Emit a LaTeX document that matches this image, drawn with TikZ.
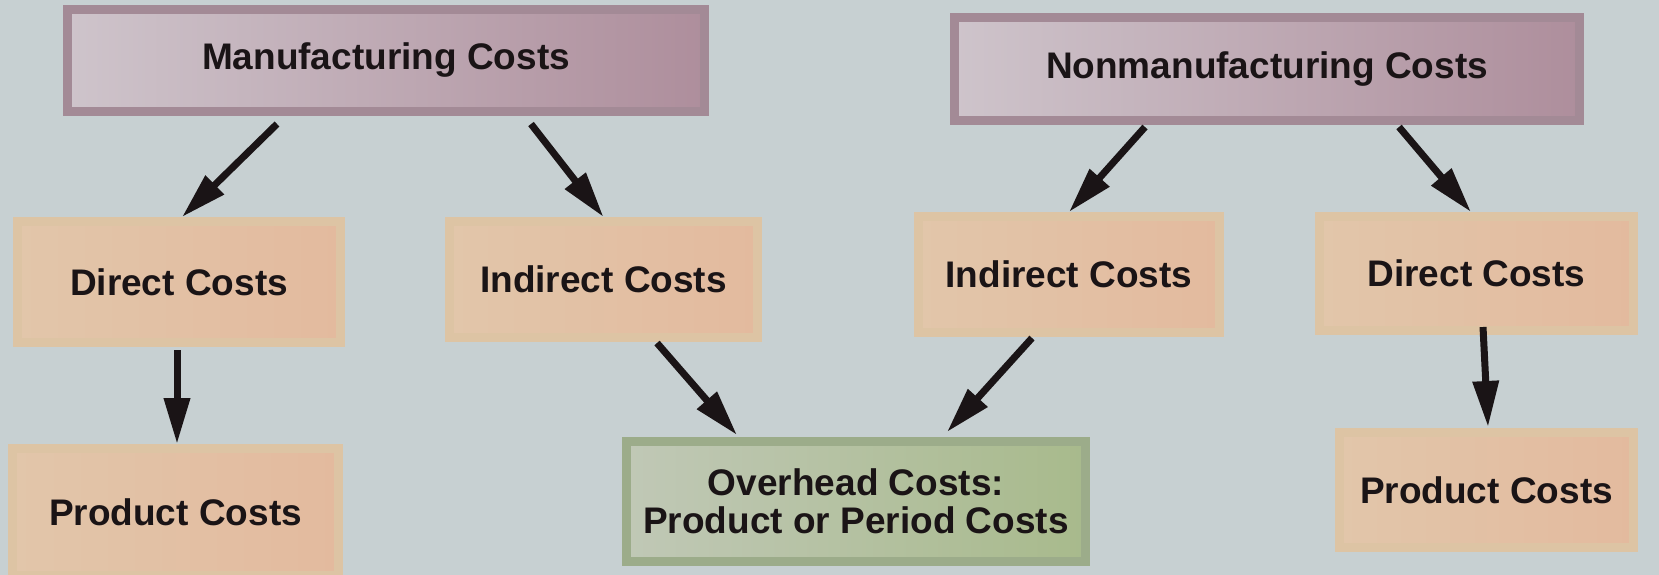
\documentclass[tikz,border=0pt]{standalone}
\usepackage{fontspec}
\setmainfont{Liberation Sans}
\usepackage{tikz}
\usetikzlibrary{arrows.meta}
\usetikzlibrary{positioning}
\usepackage{color}
\definecolor{paper}{RGB}{199, 208, 210}
\definecolor{ink}{RGB}{26, 20, 22}
\definecolor{mauveframe}{RGB}{163, 138, 150}
\definecolor{mauvelight}{RGB}{206, 196, 203}
\definecolor{mauvedark}{RGB}{174, 142, 156}
\definecolor{tanframe}{RGB}{221, 196, 164}
\definecolor{tanlight}{RGB}{226, 198, 170}
\definecolor{tandark}{RGB}{227, 186, 158}
\definecolor{sageframe}{RGB}{156, 172, 138}
\definecolor{sagelight}{RGB}{192, 200, 182}
\definecolor{sagedark}{RGB}{168, 186, 140}

\begin{document}
\begin{tikzpicture}[x=1pt, y=-1pt,
        boxtext/.style={font=\bfseries\fontsize{37}{38}\selectfont, text=ink, inner sep=0pt, line width=9pt},
        topbox/.style={boxtext, draw=mauveframe, left color=mauvelight, right color=mauvedark},
        costbox/.style={boxtext, draw=tanframe, left color=tanlight, right color=tandark},
        ohbox/.style={boxtext, draw=sageframe, left color=sagelight, right color=sagedark, align=center},
        arr/.style={line width=7pt, color=ink, -{Triangle[length=46pt, width=25pt]}}]
            % Background & frame
            \fill[paper] (0, 0) rectangle (1659, 575);
            \useasboundingbox (0, 0) rectangle (1659, 575);
            % Top row
            \node[topbox, minimum width=637pt, minimum height=102pt] (mfg)    at ( 386.0,  60.5) {Manufacturing Costs};
            \node[topbox, minimum width=625pt, minimum height=103pt] (nonmfg) at (1267.0,  69.0) {Nonmanufacturing Costs};
            % Middle row
            \node[costbox, minimum width=323pt, minimum height=121pt] (dirL) at ( 179.0, 282.0) {Direct Costs};
            \node[costbox, minimum width=308pt, minimum height=116pt] (indL) at ( 603.5, 279.5) {Indirect Costs};
            \node[costbox, minimum width=301pt, minimum height=116pt] (indR) at (1069.0, 274.5) {Indirect Costs};
            \node[costbox, minimum width=314pt, minimum height=114pt] (dirR) at (1476.5, 273.5) {Direct Costs};
            % Bottom row
            \node[costbox, minimum width=326pt, minimum height=127pt] (prodL) at ( 175.5, 512.0) {Product Costs};
            \node[ohbox,   minimum width=459pt, minimum height=120pt] (ovh)   at ( 856.0, 501.5) {Overhead Costs:\\Product or Period Costs};
            \node[costbox, minimum width=294pt, minimum height=115pt] (prodR) at (1486.5, 490.0) {Product Costs};
            % Arrows
            \draw[arr] ([xshift=-109pt, yshift=-8pt]mfg.south)    -- ([xshift=3pt]dirL.north);
            \draw[arr] ([xshift=145pt, yshift=-8pt]mfg.south)     -- (indL.north);
            \draw[arr] ([xshift=-122pt, yshift=-2pt]nonmfg.south) -- (indR.north);
            \draw[arr] ([xshift=132pt, yshift=-2pt]nonmfg.south)  -- ([xshift=-5.5pt]dirR.north);
            \draw[arr] ([xshift=-2pt, yshift=-3pt]dirL.south)     -- ([xshift=1.5pt]prodL.north);
            \draw[arr] ([xshift=53.5pt, yshift=-1pt]indL.south)   -- ([xshift=-119pt, yshift=2pt]ovh.north);
            \draw[arr] ([xshift=-37pt, yshift=-1pt]indR.south)    -- ([xshift=91pt, yshift=5pt]ovh.north);
            \draw[arr] ([xshift=6.5pt, yshift=8pt]dirR.south)     -- ([xshift=1.5pt, yshift=1pt]prodR.north);
\end{tikzpicture}
\end{document}
